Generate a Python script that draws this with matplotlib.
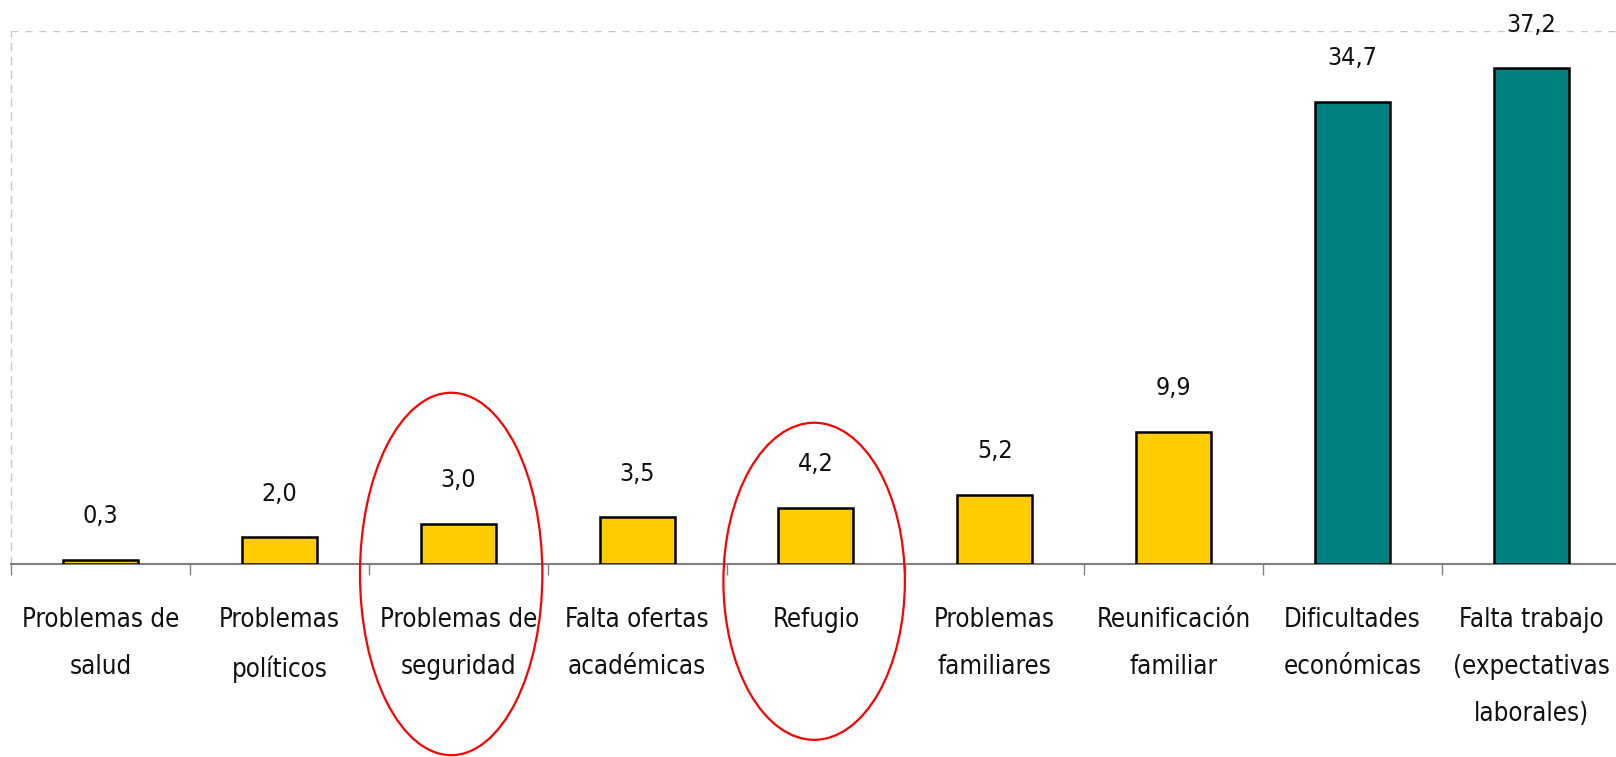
import matplotlib.pyplot as plt
from matplotlib import font_manager
from matplotlib.patches import Ellipse

# Motivos de emigración (%)
categorias = [
    "Problemas de\nsalud",
    "Problemas\npolíticos",
    "Problemas de\nseguridad",
    "Falta ofertas\nacadémicas",
    "Refugio",
    "Problemas\nfamiliares",
    "Reunificación\nfamiliar",
    "Dificultades\neconómicas",
    "Falta trabajo\n(expectativas\nlaborales)",
]
valores = [0.3, 2.0, 3.0, 3.5, 4.2, 5.2, 9.9, 34.7, 37.2]
colores = ["#FFCC00"] * 7 + ["#008080"] * 2

# buscar una fuente estrecha tipo Arial Narrow
fuente = None
for f in font_manager.fontManager.ttflist:
    nombre = (f.name + " " + f.fname).lower()
    if ("narrow" in nombre or "condensed" in nombre) and "bold" not in f.fname.lower() \
            and "italic" not in f.fname.lower() and "oblique" not in f.fname.lower():
        if fuente is None or "liberation" in nombre:
            fuente = f
if fuente is not None:
    prop = font_manager.FontProperties(fname=fuente.fname)
else:
    prop = font_manager.FontProperties(family="Liberation Sans", stretch="condensed")

fig = plt.figure(figsize=(16.16, 7.57), dpi=100)
ax = fig.add_axes([0.007, 0.255, 0.9958, 0.704])

x = range(len(valores))
ax.bar(x, valores, width=0.42, color=colores, edgecolor="black", linewidth=1.8, zorder=3)

for i, v in enumerate(valores):
    ax.annotate(f"{v:.1f}".replace(".", ","), xy=(i, v), xytext=(0, 26.5),
                textcoords="offset points", ha="center", va="baseline",
                fontproperties=prop, fontsize=18, color="#111111")

for i, etiqueta in enumerate(categorias):
    ax.annotate(etiqueta, xy=(i, 0), xytext=(0, -31), textcoords="offset points",
                ha="center", va="top", fontproperties=prop, fontsize=18.5,
                color="#111111", linespacing=2.05, annotation_clip=False)

# elipses rojas (posicion en unidades de categoria / valor)
ax.add_patch(Ellipse((1.96, -0.75), 1.02, 27.2, fill=False, edgecolor="red",
                     linewidth=1.6, clip_on=False, zorder=4))
ax.add_patch(Ellipse((3.99, -1.3), 1.015, 23.8, fill=False, edgecolor="red",
                     linewidth=1.6, clip_on=False, zorder=4))

ax.set_xlim(-0.5, len(valores) - 0.5)
ax.set_ylim(0, 40)
ax.set_xticks([i - 0.5 for i in range(len(valores) + 1)])
ax.set_xticklabels([])
ax.set_yticks([40])
ax.set_yticklabels([])
ax.tick_params(axis="y", length=0)
ax.tick_params(axis="x", length=8, width=1, color="#808080", direction="out")
ax.yaxis.grid(True, color="#c8c8c8", linestyle=(0, (5, 5)), linewidth=1)

for lado in ["top", "right"]:
    ax.spines[lado].set_visible(False)
ax.spines["left"].set_color("#c8c8c8")
ax.spines["left"].set_linestyle((0, (5, 5)))
ax.spines["left"].set_linewidth(1)
ax.spines["bottom"].set_color("#808080")
ax.spines["bottom"].set_linewidth(1.5)

fig.savefig("out.png", dpi=100)
